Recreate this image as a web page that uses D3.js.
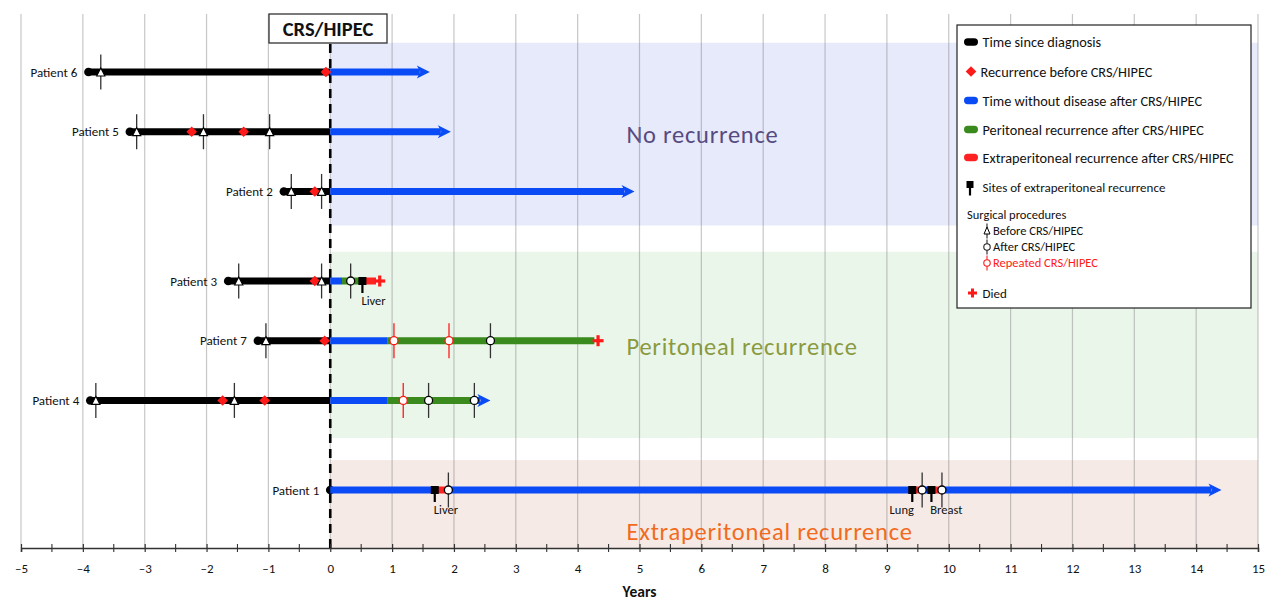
<!DOCTYPE html>
<html>
<head>
<meta charset="utf-8">
<script src="https://cdn.jsdelivr.net/npm/d3@7"></script>
<style>
  html, body { margin: 0; padding: 0; background: #fff; }
  svg { display: block; font-family: Carlito, Lato, "Liberation Sans", sans-serif; }
</style>
</head>
<body>
<svg id="chart" width="1265" height="601"></svg>
<script>
// ---------- data ----------
const yearTicks = d3.range(-5, 16);
const yearTickLabels = ["–5","–4","–3","–2","–1","0","1","2","3","4","5","6","7","8","9","10","11","12","13","14","15"];
const halfYearTicks = d3.range(-4.5, 15, 1);

const patients      = ["Patient 6", "Patient 5", "Patient 2", "Patient 3", "Patient 7", "Patient 4", "Patient 1"];
const patientGroup  = ["none", "none", "none", "peri", "peri", "peri", "extra"];
const diagnosisTime = [-3.91, -3.24, -0.75, -1.65, -1.17, -3.88, 0];

const recurrencesBefore = [[-0.07], [-2.24, -1.40], [-0.25], [-0.25], [-0.09], [-1.74, -1.06], []];
const surgeriesBefore   = [[-3.71], [-3.13, -2.05, -0.98], [-0.63, -0.14], [-1.48, -0.14], [-1.04], [-3.79, -1.55], []];
const surgeriesAfter    = [[], [], [], [0.33], [2.59], [1.59, 2.33], [1.91, 9.57, 9.89]];
const repeatedCrsHipec  = [[], [], [], [], [1.03, 1.92], [1.18], []];

// follow-up after CRS/HIPEC: [state, from, to]
const followUp = [
  [["free", 0, 1.61]],
  [["free", 0, 1.95]],
  [["free", 0, 4.92]],
  [["free", 0, 0.19], ["peri", 0.19, 0.52], ["extra", 0.52, 0.74]],
  [["free", 0, 0.93], ["peri", 0.93, 4.27]],
  [["free", 0, 0.93], ["peri", 0.93, 2.33], ["free", 2.33, 2.59]],
  [["free", 0, 1.69], ["extra", 1.69, 1.91], ["free", 1.91, 9.41], ["extra", 9.41, 9.57],
   ["free", 9.57, 9.72], ["extra", 9.72, 9.89], ["free", 9.89, 14.41]]
];
const outcome     = ["alive", "alive", "alive", "died", "died", "alive", "alive"];
const outcomeTime = [1.61, 1.95, 4.92, 0.80, 4.33, 2.59, 14.41];

const siteTimes      = [[], [], [], [0.52], [], [], [1.69, 9.41, 9.72]];
const siteNames      = [[], [], [], ["Liver"], [], [], ["Liver", "Lung", "Breast"]];
const siteLabelTimes = [[], [], [], [0.70], [], [], [1.87, 9.24, 9.96]];

const groupKeys   = ["none", "peri", "extra"];
const groupLabels = ["No recurrence", "Peritoneal recurrence", "Extraperitoneal recurrence"];

const legendLabels = [
  "Time since diagnosis",
  "Recurrence before CRS/HIPEC",
  "Time without disease after CRS/HIPEC",
  "Peritoneal recurrence after CRS/HIPEC",
  "Extraperitoneal recurrence after CRS/HIPEC",
  "Sites of extraperitoneal recurrence",
  "Surgical procedures",
  "Before CRS/HIPEC",
  "After CRS/HIPEC",
  "Repeated CRS/HIPEC",
  "Died"
];

// ---------- styles ----------
const stateColor = { free: "#0a4bf6", peri: "#3a8a1d", extra: "#ff2222" };
const RED = "#ff1a1a";
const regionFill  = { none: "#e6eafb", peri: "#ebf6ea", extra: "#f5eae6" };
const regionText  = { none: "#574a80", peri: "#8a9a3f", extra: "#f26b1d" };
const BAR = 7;

const svg = d3.select("#chart");
const W = 1265, H = 601;
svg.append("rect").attr("width", W).attr("height", H).attr("fill", "#fff");

const x = d3.scaleLinear().domain([-5, 15]).range([21, 1258]);
const axisY = 548, gridTop = 14;

// row slots: patients stacked with an extra half-row between groups
const slots = patients.map((p, i) => i + groupKeys.indexOf(patientGroup[i]) * 0.5);
const y = d3.scaleLinear().domain([0, 7]).range([72, 490]);

// ---------- group regions ----------
const regionExtent = {
  none:  [y(-0.49), y(2.57)],
  peri:  [y(3.01), y(6.13)],
  extra: [y(6.5), axisY]
};
const regionLabelSlot = { none: 1.05, peri: 4.6, extra: 7.7 };
const gReg = svg.append("g");
groupKeys.forEach((k, gi) => {
  gReg.append("rect")
    .attr("x", x(0)).attr("width", x(15) - x(0))
    .attr("y", regionExtent[k][0]).attr("height", regionExtent[k][1] - regionExtent[k][0])
    .attr("fill", regionFill[k]);
  gReg.append("text")
    .attr("x", x(4.79)).attr("y", y(regionLabelSlot[k]))
    .attr("dy", "0.35em")
    .attr("fill", regionText[k])
    .attr("font-size", 24.5)
    .style("letter-spacing", "0.75px")
    .text(groupLabels[gi]);
});

// ---------- grid ----------
svg.append("g").selectAll("line").data(yearTicks).join("line")
  .attr("x1", d => x(d)).attr("x2", d => x(d))
  .attr("y1", gridTop).attr("y2", axisY)
  .attr("stroke", "#7a7a7a").attr("stroke-opacity", 0.42).attr("stroke-width", 1.2);

// ---------- CRS/HIPEC reference line ----------
svg.append("line")
  .attr("x1", x(0)).attr("x2", x(0)).attr("y1", gridTop).attr("y2", axisY)
  .attr("stroke", "#000").attr("stroke-width", 2.6).attr("stroke-dasharray", "9,6");
svg.append("rect")
  .attr("x", 269).attr("y", gridTop).attr("width", 118).attr("height", 29)
  .attr("fill", "#fff").attr("stroke", "#333").attr("stroke-width", 1.3);
svg.append("text")
  .attr("x", 328).attr("y", gridTop + 14.5).attr("dy", "0.35em")
  .attr("text-anchor", "middle").attr("font-weight", "bold").attr("font-size", 20.5)
  .attr("fill", "#111").text("CRS/HIPEC");

// ---------- axis ----------
const axis = d3.axisBottom(x).tickValues(yearTicks)
  .tickFormat((d, i) => yearTickLabels[i]).tickSizeOuter(0).tickSize(4).tickPadding(12);
const gAx = svg.append("g").attr("transform", `translate(0,${axisY})`).call(axis);
gAx.select(".domain").attr("stroke", "#333").attr("stroke-width", 1.5);
gAx.selectAll(".tick line").attr("y1", -4).attr("y2", 4).attr("stroke", "#333").attr("stroke-width", 1.2);
gAx.selectAll(".tick text").attr("font-size", 13).attr("fill", "#111")
  .attr("font-family", "Carlito, Lato, sans-serif");
gAx.append("g").selectAll("line").data(halfYearTicks).join("line")
  .attr("x1", d => x(d)).attr("x2", d => x(d)).attr("y1", -4).attr("y2", 4)
  .attr("stroke", "#333").attr("stroke-width", 1.1);
svg.append("text")
  .attr("x", x(5)).attr("y", 592).attr("dy", "0.35em")
  .attr("text-anchor", "middle").attr("font-weight", "bold").attr("font-size", 15.5)
  .attr("fill", "#111").text("Years");

// ---------- marker helpers ----------
function diamond(g, cx, cy, s) {
  g.append("path").attr("d", `M${cx},${cy - s}L${cx + s},${cy}L${cx},${cy + s}L${cx - s},${cy}Z`)
    .attr("fill", RED);
}
function triangle(g, cx, cy, s) {
  g.append("path").attr("d", `M${cx},${cy - s}L${cx + s * 0.9},${cy + s * 0.75}L${cx - s * 0.9},${cy + s * 0.75}Z`)
    .attr("fill", "#fff").attr("stroke", "#000").attr("stroke-width", 1.1);
}
function ring(g, cx, cy, r, color) {
  g.append("circle").attr("cx", cx).attr("cy", cy).attr("r", r)
    .attr("fill", "#fff").attr("stroke", color).attr("stroke-width", 1.3);
}
function site(g, cx, cy, s, stem) {
  g.append("line").attr("x1", cx).attr("x2", cx).attr("y1", cy).attr("y2", cy + stem)
    .attr("stroke", "#000").attr("stroke-width", 2.2);
  g.append("rect").attr("x", cx - s / 2).attr("y", cy - s / 2).attr("width", s).attr("height", s)
    .attr("fill", "#000");
}
function cross(g, cx, cy, s, t) {
  g.append("rect").attr("x", cx - s).attr("y", cy - t / 2).attr("width", 2 * s).attr("height", t).attr("fill", RED);
  g.append("rect").attr("x", cx - t / 2).attr("y", cy - s).attr("width", t).attr("height", 2 * s).attr("fill", RED);
}
function arrowHead(g, tip, cy, color) {
  g.append("path")
    .attr("d", `M${tip},${cy}L${tip - 13},${cy - 6.5}L${tip - 9.5},${cy}L${tip - 13},${cy + 6.5}Z`)
    .attr("fill", color);
}
function surgeryLine(g, cx, cy, color) {
  g.append("line").attr("x1", cx).attr("x2", cx).attr("y1", cy - 17.5).attr("y2", cy + 17.5)
    .attr("stroke", color).attr("stroke-width", 1.3);
}

// ---------- patient rows ----------
const gRows = svg.append("g");
patients.forEach((name, i) => {
  const cy = y(slots[i]);
  const g = gRows.append("g");

  // surgery marks behind the bars
  surgeriesBefore[i].forEach(t => surgeryLine(g, x(t), cy, "#333"));
  surgeriesAfter[i].forEach(t => surgeryLine(g, x(t), cy, "#333"));
  repeatedCrsHipec[i].forEach(t => surgeryLine(g, x(t), cy, RED));

  // time since diagnosis
  if (diagnosisTime[i] < 0) {
    g.append("line").attr("x1", x(diagnosisTime[i])).attr("x2", x(0))
      .attr("y1", cy).attr("y2", cy).attr("stroke", "#000").attr("stroke-width", BAR);
  }
  g.append("circle").attr("cx", x(diagnosisTime[i])).attr("cy", cy).attr("r", 4.3).attr("fill", "#000");

  // follow-up after CRS/HIPEC
  const segs = followUp[i];
  segs.forEach((s, k) => {
    const last = k === segs.length - 1;
    let x2 = x(s[2]);
    if (last && outcome[i] === "alive") x2 = x(outcomeTime[i]) - 10;
    g.append("line").attr("x1", x(s[1])).attr("x2", x2)
      .attr("y1", cy).attr("y2", cy)
      .attr("stroke", stateColor[s[0]]).attr("stroke-width", BAR);
    if (last && outcome[i] === "alive") arrowHead(g, x(outcomeTime[i]), cy, stateColor[s[0]]);
  });

  recurrencesBefore[i].forEach(t => diamond(g, x(t), cy, 5.3));
  surgeriesBefore[i].forEach(t => triangle(g, x(t), cy + 0.5, 4.6));
  siteTimes[i].forEach(t => site(g, x(t), cy, 8, 12));
  surgeriesAfter[i].forEach(t => ring(g, x(t), cy, 4, "#000"));
  repeatedCrsHipec[i].forEach(t => ring(g, x(t), cy, 4, RED));
  if (outcome[i] === "died") cross(g, x(outcomeTime[i]), cy, 5.5, 3.2);

  siteNames[i].forEach((lab, k) => {
    g.append("text").attr("x", x(siteLabelTimes[i][k])).attr("y", cy + 20).attr("dy", "0.35em")
      .attr("text-anchor", "middle").attr("font-size", 12.5).attr("fill", "#111").text(lab);
  });

  g.append("text").attr("x", x(diagnosisTime[i]) - 11).attr("y", cy).attr("dy", "0.35em")
    .attr("text-anchor", "end").attr("font-size", 13).attr("fill", "#111").text(name);
});

// ---------- legend ----------
const lg = svg.append("g");
lg.append("rect").attr("x", 957).attr("y", 25).attr("width", 294).attr("height", 283)
  .attr("fill", "#fff").attr("stroke", "#222").attr("stroke-width", 1.2);

const legendRowsY = [42, 71.5, 100.5, 129.5, 157.5, 187.5, 215, 231, 247, 263, 293];
function pill(cx, cy, color) {
  lg.append("rect").attr("x", cx - 7).attr("y", cy - 3.7).attr("width", 14).attr("height", 7.4)
    .attr("rx", 3.7).attr("fill", color);
}
function legText(tx, cy, txt, size, color) {
  lg.append("text").attr("x", tx).attr("y", cy).attr("dy", "0.35em")
    .attr("font-size", size).attr("fill", color || "#111").text(txt);
}
const LX = 971;
pill(LX, legendRowsY[0], "#000");
legText(982.5, legendRowsY[0], legendLabels[0], 14.3);
diamond(lg, LX, legendRowsY[1], 5.3);
legText(980.5, legendRowsY[1], legendLabels[1], 14.3);
pill(LX, legendRowsY[2], stateColor.free);
legText(982.5, legendRowsY[2], legendLabels[2], 14.3);
pill(LX, legendRowsY[3], stateColor.peri);
legText(982.5, legendRowsY[3], legendLabels[3], 14.3);
pill(LX, legendRowsY[4], stateColor.extra);
legText(982.5, legendRowsY[4], legendLabels[4], 14.3);
site(lg, LX - 1, legendRowsY[5] - 3, 7, 11);
legText(982.5, legendRowsY[5], legendLabels[5], 13);
legText(967, legendRowsY[6], legendLabels[6], 12.5);
const SX = 987;
[7, 8, 9].forEach(k => {
  const cy = legendRowsY[k];
  const col = k === 9 ? RED : "#222";
  lg.append("line").attr("x1", SX).attr("x2", SX).attr("y1", cy - 7.5).attr("y2", cy + 7.5)
    .attr("stroke", col).attr("stroke-width", 1.1);
  if (k === 7) {
    lg.append("path").attr("d", `M${SX},${cy - 4}L${SX + 3},${cy + 3}L${SX - 3},${cy + 3}Z`)
      .attr("fill", "#fff").attr("stroke", "#000").attr("stroke-width", 1);
  } else {
    lg.append("circle").attr("cx", SX).attr("cy", cy).attr("r", 3.2)
      .attr("fill", "#fff").attr("stroke", col).attr("stroke-width", 1.1);
  }
  legText(993, cy, legendLabels[k], 12.5, k === 9 ? RED : "#111");
});
cross(lg, 972.5, legendRowsY[10], 4.5, 3);
legText(982.5, legendRowsY[10], legendLabels[10], 13);
</script>
</body>
</html>
